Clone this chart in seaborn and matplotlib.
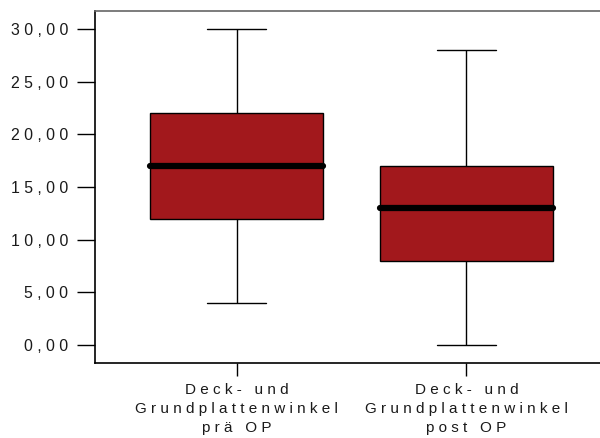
import matplotlib
matplotlib.use("Agg")
import matplotlib.pyplot as plt
import pandas as pd
import seaborn as sns

# Five-number summary of each group (lower whisker, Q1, median, Q3, upper whisker)
groups = ["Deck- und\nGrundplattenwinkel\nprä OP", "Deck- und\nGrundplattenwinkel\npost OP"]
lower_whisker = [4, 0]
q1 = [12, 8]
median = [17, 13]
q3 = [22, 17]
upper_whisker = [30, 28]
yticks = [0, 5, 10, 15, 20, 25, 30]

rows = []
for g, vals in zip(groups, zip(lower_whisker, q1, median, q3, upper_whisker)):
    for v in vals:
        rows.append({"Gruppe": g, "Winkel": v})
df = pd.DataFrame(rows)


def tracked(s):
    """Wide letter spacing, line by line."""
    return "\n".join(" ".join(line) for line in s.split("\n"))


sns.set_style("ticks")
plt.rcParams["font.family"] = ["Liberation Sans", "DejaVu Sans"]
plt.rcParams["font.size"] = 11.4

fig = plt.figure(figsize=(6, 4.38), dpi=100)
ax = fig.add_axes([95 / 600, 1 - 362.7 / 438, (608 - 95) / 600, (362.7 - 11) / 438])

sns.boxplot(
    data=df, x="Gruppe", y="Winkel", ax=ax,
    color="#a2181c", saturation=1, width=0.755,
    linewidth=1, linecolor="black", fliersize=0,
    capwidths=0.26,
    medianprops=dict(linewidth=4.5, color="black", solid_capstyle="round"),
)

ax.set_xlim(-0.616, 1.616)
ax.set_ylim(-1.68, 31.71)
ax.set_xlabel("")
ax.set_ylabel("")

ax.set_yticks(yticks, labels=[tracked(f"{v:.2f}".replace(".", ",")) for v in yticks])
ax.set_xticks(range(len(groups)), labels=[tracked(g) for g in groups])

ax.tick_params(axis="y", direction="out", length=13, width=1, pad=6.5,
               colors="black", labelcolor="#1a1a1a")
ax.tick_params(axis="x", direction="out", length=9.4, width=1, pad=5.0,
               colors="black", labelcolor="#1a1a1a", labelsize=11.0)
for lbl in ax.get_xticklabels():
    lbl.set_linespacing(1.45)

for side in ["left", "bottom"]:
    ax.spines[side].set_color("black")
    ax.spines[side].set_linewidth(1.2)
ax.spines["top"].set_color("#666666")
ax.spines["top"].set_linewidth(1.2)
ax.spines["right"].set_visible(True)

fig.savefig("out.png", dpi=100)
